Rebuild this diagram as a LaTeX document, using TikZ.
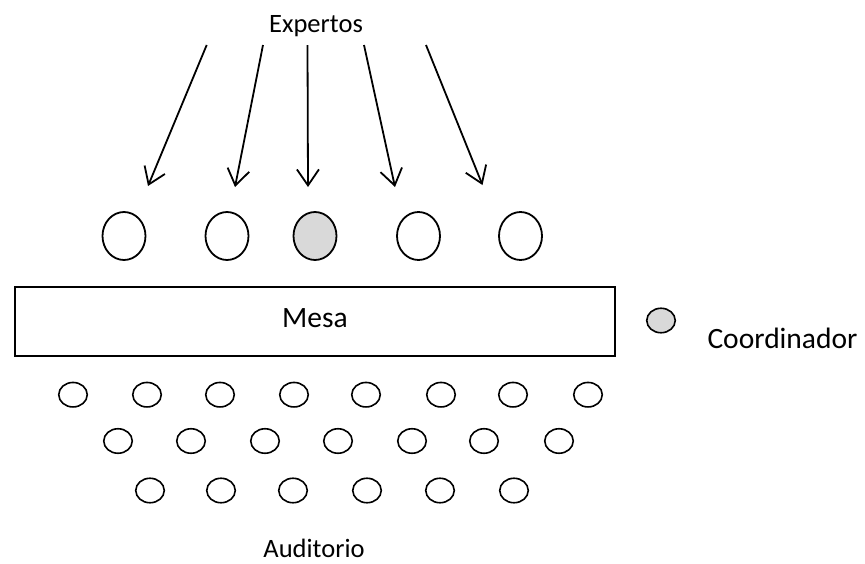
\documentclass[tikz,border=0pt]{standalone}
\usepackage{fontspec}
\setmainfont{Carlito}
\usetikzlibrary{shapes.geometric,arrows.meta}
\tikzset{
  lbl/.style={font=\fontsize{26.5}{32}\selectfont, inner sep=0pt, anchor=base},
  biglbl/.style={font=\fontsize{29.5}{35}\selectfont, inner sep=0pt, anchor=base},
  expert/.style={draw, ellipse, line width=1.8pt, minimum width=43pt, minimum height=48pt, inner sep=0pt},
  seat/.style={draw, ellipse, line width=1.6pt, minimum width=28.5pt, minimum height=24.5pt, inner sep=0pt},
  coord/.style={fill=black!15},
  table/.style={draw, line width=1.8pt, minimum width=600pt, minimum height=69pt, inner sep=0pt},
  inflow/.style={line width=1.8pt, -{Straight Barb[length=16pt,width=22pt]}}
}
\begin{document}
\begin{tikzpicture}[x=1pt,y=-1pt]
\useasboundingbox (0,0) rectangle (865,563);
% texts
\node[lbl] (expertos) at (316,32) {Expertos};
\node[lbl] (auditorio) at (314,557.5) {Auditorio};
\node[biglbl] (coordlabel) at (782.5,348) {Coordinador};
% table
\node[table] (mesa) at (315,321.5) {};
\node[biglbl] (mesatext) at (315,327) {Mesa};
% experts
\node[expert] (x1) at (124,236) {};
\node[expert] (x2) at (227,236) {};
\node[expert, coord] (x3) at (315,236) {};
\node[expert] (x4) at (418.5,236) {};
\node[expert] (x5) at (520.5,236) {};
% coordinator legend
\node[seat, coord] (legend) at (661,320.5) {};
% arrows
\coordinate (a1s) at (206.7,45); \coordinate (a1e) at (148,186);
\coordinate (a2s) at (263,45);   \coordinate (a2e) at (235,187);
\coordinate (a3s) at (307.5,45); \coordinate (a3e) at (308,187);
\coordinate (a4s) at (364,45);   \coordinate (a4e) at (395,187);
\coordinate (a5s) at (426,45);   \coordinate (a5e) at (482.5,185);
\draw[inflow] (a1s) -- (a1e);
\draw[inflow] (a2s) -- (a2e);
\draw[inflow] (a3s) -- (a3e);
\draw[inflow] (a4s) -- (a4e);
\draw[inflow] (a5s) -- (a5e);
% audience
\foreach \x [count=\i] in {73,147,220,294,366,441,513,588}
  \node[seat] (r1s\i) at (\x,394.7) {};
\foreach \x [count=\i] in {118,191,265,338,412,484,559}
  \node[seat] (r2s\i) at (\x,441) {};
\foreach \x [count=\i] in {150,221,293,367,440,514}
  \node[seat] (r3s\i) at (\x,490.5) {};
\end{tikzpicture}
\end{document}
